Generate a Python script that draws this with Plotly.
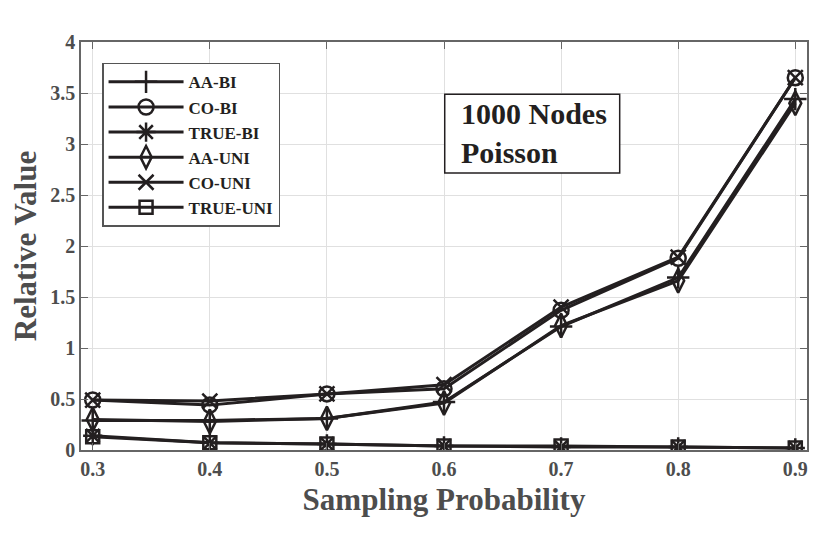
import plotly.graph_objects as go

# Sampling probability on x, relative value on y
sampling_prob = [0.3, 0.4, 0.5, 0.6, 0.7, 0.8, 0.9]

aa_bi = [0.29, 0.29, 0.31, 0.47, 1.21, 1.69, 3.44]
co_bi = [0.49, 0.44, 0.55, 0.60, 1.37, 1.88, 3.65]
true_bi = [0.14, 0.07, 0.06, 0.04, 0.03, 0.03, 0.02]
aa_uni = [0.30, 0.28, 0.31, 0.46, 1.22, 1.66, 3.40]
co_uni = [0.49, 0.48, 0.55, 0.64, 1.40, 1.89, 3.65]
true_uni = [0.13, 0.07, 0.06, 0.04, 0.04, 0.03, 0.02]

series_names = ['AA-BI', 'CO-BI', 'TRUE-BI', 'AA-UNI', 'CO-UNI', 'TRUE-UNI']
series_values = [aa_bi, co_bi, true_bi, aa_uni, co_uni, true_uni]
symbols = ['cross-thin-open', 'circle-open', 'asterisk-open',
           'diamond-tall-open', 'x-thin-open', 'square-open']
sizes = [16, 15, 16, 17, 15, 13]

ink = '#231f20'
grey = '#4d4d4d'
serif = 'Liberation Serif'

fig = go.Figure()
for name, vals, sym, sz in zip(series_names, series_values, symbols, sizes):
    fig.add_trace(go.Scatter(
        x=sampling_prob, y=vals, name=name, mode='lines+markers',
        line=dict(color=ink, width=3),
        marker=dict(symbol=sym, size=sz, color=ink,
                    line=dict(color=ink, width=2.5)),
    ))

axis_common = dict(
    showline=True, linecolor='#666666', linewidth=1.5, mirror='ticks',
    ticks='inside', ticklen=7, tickcolor='#666666',
    showgrid=True, gridcolor='#e0e0e0', gridwidth=1, zeroline=False,
    automargin=False,
    tickfont=dict(family=serif, size=20, color=grey, weight='bold'),
)

fig.update_xaxes(range=[0.29, 0.91], tickvals=sampling_prob,
                 ticktext=['0.3', '0.4', '0.5', '0.6', '0.7', '0.8', '0.9'],
                 title=dict(text='Sampling Probability', standoff=10,
                            font=dict(family=serif, size=31, color=grey, weight='bold')),
                 **axis_common)
fig.update_yaxes(range=[0, 4], dtick=0.5,
                 title=dict(text='Relative Value', standoff=8,
                            font=dict(family=serif, size=31, color=grey, weight='bold')),
                 **axis_common)

# text box: frame drawn as a shape, text as a plain annotation
fig.add_shape(type='rect', xref='paper', yref='paper',
              x0=0.501, x1=0.742, y0=0.679, y1=0.872,
              line=dict(color=ink, width=1.5), fillcolor='white', layer='above')
fig.add_annotation(
    xref='paper', yref='paper', x=0.521, y=0.777,
    xanchor='left', yanchor='middle', align='left', showarrow=False,
    text='1000 Nodes<br>Poisson',
    font=dict(family=serif, size=30, color=ink, weight='bold'),
)

# page body adds ~8px offset, so the figure is shrunk by that much
fig.update_layout(
    width=822, height=527,
    margin=dict(l=73, r=23, t=34, b=85),
    plot_bgcolor='white', paper_bgcolor='white',
    legend=dict(x=0.029, y=0.949, xanchor='left', yanchor='top',
                bordercolor='#555555', borderwidth=1.5, bgcolor='white',
                itemwidth=75, tracegroupgap=0,
                font=dict(family=serif, size=17, color=ink, weight='bold')),
)

fig.write_html('out.html')
